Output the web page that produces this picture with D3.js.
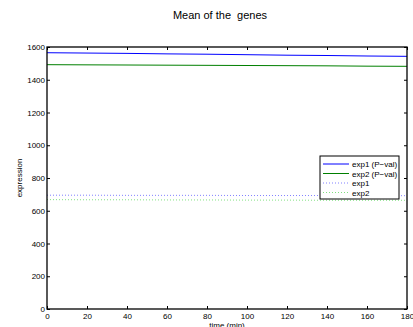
<!DOCTYPE html>
<html>
<head>
<meta charset="utf-8">
<script src="https://cdn.jsdelivr.net/npm/d3@7"></script>
<style>
  body { margin: 0; background: #fff; }
  text { font-family: "Liberation Sans", Arial, sans-serif; fill: #000; }
</style>
</head>
<body>
<div id="chart"></div>
<script>
// time points (min)
var times = [0, 20, 40, 60, 80, 100, 120, 140, 160, 180];

// series values
var exp1Pval = [1565, 1563, 1561, 1558, 1556, 1553, 1550, 1548, 1545, 1543];
var exp2Pval = [1492, 1491, 1490, 1489, 1488, 1487, 1486, 1485, 1483, 1482];
var exp1 = [695, 695, 694, 694, 694, 693, 693, 693, 692, 692];
var exp2 = [668, 667, 667, 666, 666, 665, 665, 664, 664, 664];

var seriesNames = ["exp1 (P\u2212val)", "exp2 (P\u2212val)", "exp1", "exp2"];
var seriesColours = ["#0000ff", "#007f00", "#8080ff", "#80e080"];
var seriesDash = [null, null, "1,2", "1,2"];
var seriesData = [exp1Pval, exp2Pval, exp1, exp2];

var xTicks = [0, 20, 40, 60, 80, 100, 120, 140, 160, 180];
var yTicks = [0, 200, 400, 600, 800, 1000, 1200, 1400, 1600];

(function() {
    var width = 413, height = 327;
    // plot box edges ("top" is reserved on window, so use other names)
    var pl = 47, pr = 407, pt = 47, pb = 309;

    var svg = d3.select("#chart").append("svg")
        .attr("width", width)
        .attr("height", height);

    var x = d3.scaleLinear().domain([0, 180]).range([pl, pr]);
    var y = d3.scaleLinear().domain([0, 1600]).range([pb, pt]);

    //Title
    svg.append("text")
        .attr("x", 220).attr("y", 19)
        .attr("text-anchor", "middle")
        .style("font-size", "11px")
        .style("white-space", "pre")
        .text("Mean of the  genes");

    //Lines
    var line = d3.line()
        .x(function(d, i) { return x(times[i]); })
        .y(function(d) { return y(d); });

    for (var i = 0; i < seriesData.length; i++) {
        svg.append("path")
            .datum(seriesData[i])
            .attr("d", line)
            .attr("fill", "none")
            .attr("stroke", seriesColours[i])
            .attr("stroke-width", 1)
            .attr("stroke-dasharray", seriesDash[i]);
    }

    //Axes (ticks inside, mirrored)
    var tk = 3;
    svg.append("g")
        .attr("transform", "translate(0," + pb + ")")
        .call(d3.axisBottom(x).tickValues(xTicks).tickSize(-tk).tickPadding(4).tickFormat(d3.format("d")))
        .call(function(g) { g.select(".domain").remove(); });
    svg.append("g")
        .attr("transform", "translate(0," + pt + ")")
        .call(d3.axisTop(x).tickValues(xTicks).tickSize(-tk).tickFormat(""))
        .call(function(g) { g.select(".domain").remove(); });
    svg.append("g")
        .attr("transform", "translate(" + pl + ",0)")
        .call(d3.axisLeft(y).tickValues(yTicks).tickSize(-tk).tickPadding(2).tickFormat(d3.format("d")))
        .call(function(g) { g.select(".domain").remove(); });
    svg.append("g")
        .attr("transform", "translate(" + pr + ",0)")
        .call(d3.axisRight(y).tickValues(yTicks).tickSize(-tk).tickFormat(""))
        .call(function(g) { g.select(".domain").remove(); });

    svg.selectAll(".tick text").style("font-size", "8px").style("font-family", "Liberation Sans, Arial, sans-serif");
    svg.selectAll(".tick line").attr("stroke", "#000");

    //Frame
    svg.append("rect")
        .attr("x", pl).attr("y", pt)
        .attr("width", pr - pl).attr("height", pb - pt)
        .attr("fill", "none")
        .attr("stroke", "#000")
        .attr("stroke-width", 1.3);

    //Axis labels
    svg.append("text")
        .attr("x", (pl + pr) / 2).attr("y", 328)
        .attr("text-anchor", "middle")
        .style("font-size", "8px")
        .text("time (min)");
    svg.append("text")
        .attr("transform", "translate(22," + (pt + pb) / 2 + ") rotate(-90)")
        .attr("text-anchor", "middle")
        .style("font-size", "8px")
        .text("expression");

    //Legend
    var lg = svg.append("g").attr("transform", "translate(320,156)");
    lg.append("rect")
        .attr("width", 79).attr("height", 43)
        .attr("fill", "#fff")
        .attr("stroke", "#000")
        .attr("stroke-width", 1);
    for (var j = 0; j < seriesNames.length; j++) {
        var ly = 8 + j * 9.5;
        lg.append("line")
            .attr("x1", 3).attr("x2", 29)
            .attr("y1", ly).attr("y2", ly)
            .attr("stroke", seriesColours[j])
            .attr("stroke-width", 1)
            .attr("stroke-dasharray", seriesDash[j]);
        lg.append("text")
            .attr("x", 32).attr("y", ly + 3)
            .style("font-size", "8px")
            .text(seriesNames[j]);
    }
})();
</script>
</body>
</html>
